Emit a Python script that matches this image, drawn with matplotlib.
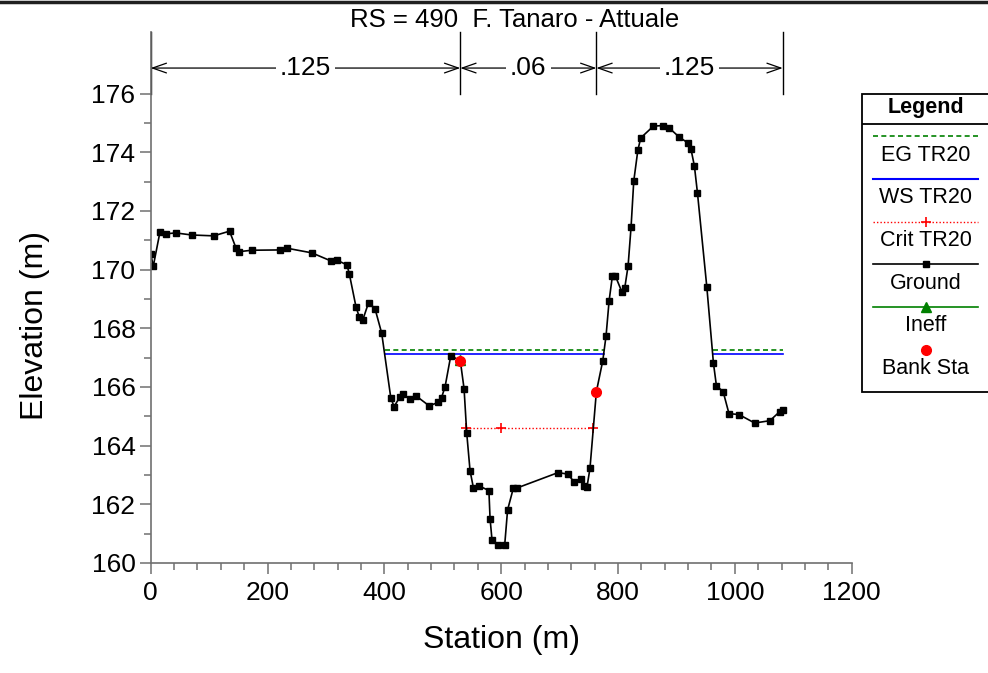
import matplotlib
matplotlib.use("Agg")
import matplotlib.pyplot as plt
from matplotlib.lines import Line2D
from matplotlib.patches import Rectangle

plt.rcParams['font.family'] = ['Liberation Sans', 'DejaVu Sans']

# --- ground profile (station m, elevation m) ---
station = [0, 4.5, 16, 26, 43, 70, 108, 135, 146, 151, 173, 221, 233, 276, 308, 319,
           336, 340, 351.5, 357, 363, 373, 384, 395.5, 411, 416.6, 427, 432.5, 444, 454,
           476.5, 492.5, 498, 504, 513.7, 530, 536.5, 541, 546.7, 552.4, 561.6, 579, 581,
           584.4, 594, 606, 611, 621, 627.7, 697.4, 714, 725, 736, 741.4, 747, 752, 763,
           774, 779.6, 784.8, 790.4, 795.5, 806.5, 811.6, 817.3, 822.4, 827, 834, 839,
           860.6, 876.7, 887, 904.6, 919.5, 925, 930.8, 936, 952, 963.4, 968.5, 980, 990,
           1007, 1034, 1060, 1077, 1082]
elevation = [170.53, 170.12, 171.29, 171.22, 171.25, 171.18, 171.15, 171.31, 170.74, 170.61,
             170.66, 170.67, 170.73, 170.57, 170.30, 170.32, 170.16, 169.86, 168.73, 168.39,
             168.28, 168.87, 168.67, 167.83, 165.64, 165.33, 165.67, 165.75, 165.58, 165.70,
             165.36, 165.47, 165.64, 166.01, 167.06, 166.90, 165.94, 164.44, 163.15, 162.57,
             162.63, 162.47, 161.51, 160.77, 160.60, 160.60, 161.81, 162.56, 162.56, 163.08,
             163.03, 162.76, 162.87, 162.63, 162.60, 163.22, 165.84, 166.90, 167.75, 168.94,
             169.78, 169.78, 169.25, 169.38, 170.13, 171.46, 173.02, 174.07, 174.49, 174.89,
             174.91, 174.84, 174.52, 174.32, 174.10, 173.53, 172.62, 169.42, 166.81, 166.04,
             165.84, 165.09, 165.06, 164.77, 164.85, 165.16, 165.22]

# water surfaces (wetted extents)
ws_elev = 167.11
eg_elev = 167.27
ws_extents = [(400.5, 775.5), (962, 1082)]
crit_elev = 164.61
crit_sta = [540.5, 600, 757.5]

bank_sta = [530, 763]
bank_elev = [166.90, 165.84]
ineff_sta = [530]
ineff_elev = [166.92]

# manning's n
n_edges = [0, 530, 763, 1082]
n_values = [".125", ".06", ".125"]

fig = plt.figure(figsize=(9.88, 6.73), dpi=100)
ax = fig.add_axes([0.1525, 0.1635, 0.7095, 0.789])

for a, b in ws_extents:
    ax.plot([a, b], [eg_elev, eg_elev], color='#008000', lw=1.2, ls=(0, (3, 2)))
    ax.plot([a, b], [ws_elev, ws_elev], color='#0000ff', lw=1.2)
ax.plot(crit_sta, [crit_elev] * len(crit_sta), color='#ff0000', lw=1, ls=(0, (1, 1.5)),
        marker='+', ms=7, mew=1.2)
ax.plot(station, elevation, color='black', lw=1.2, marker='s', ms=4)
ax.plot(ineff_sta, ineff_elev, ls='none', marker='^', color='#008000', ms=7)
ax.plot(bank_sta, bank_elev, ls='none', marker='o', color='#ff0000', ms=7)

ax.set_xlim(0, 1200)
ax.set_ylim(160, 178.1)
ax.set_xticks(range(0, 1201, 200))
ax.set_xticks(range(0, 1201, 40), minor=True)
ax.set_yticks(range(160, 177, 2))
ax.set_yticks(range(161, 176, 2), minor=True)
for s in ['top', 'right']:
    ax.spines[s].set_visible(False)
for s in ['left', 'bottom']:
    ax.spines[s].set_color('#707070')
    ax.spines[s].set_linewidth(1.2)
ax.tick_params(which='major', length=8, width=1.1, color='#707070', labelsize=19, pad=3)
ax.tick_params(which='minor', length=5, width=1.1, color='#707070')
ax.tick_params(axis='x', which='major', pad=5)

# n-value bands above the section
y_arrow = 176.87
for x in n_edges:
    ax.plot([x, x], [176, 178.1], color='black', lw=1, clip_on=False)
for i, n in enumerate(n_values):
    x0, x1 = n_edges[i], n_edges[i + 1]
    ax.annotate('', xy=(x1, y_arrow), xytext=(x0, y_arrow),
                arrowprops=dict(arrowstyle='<->,head_length=1.0,head_width=0.35',
                                color='black', lw=0.9, shrinkA=0, shrinkB=0,
                                mutation_scale=10))
    ax.text((x0 + x1) / 2, y_arrow, n, fontsize=19, ha='center', va='center',
            bbox=dict(facecolor='white', edgecolor='none', pad=3))

fig.text(515 / 988, 1 - 20 / 673, 'RS = 490  F. Tanaro - Attuale', fontsize=18.5,
         ha='center', va='center')
fig.text(35 / 988, 1 - 325 / 673, 'Elevation (m)', fontsize=23, rotation=90,
         ha='center', va='center')
fig.text(501 / 988, 1 - 640 / 673, 'Station (m)', fontsize=23, ha='center', va='center')

# top frame line
fig.add_artist(Line2D([0, 1], [1 - 1.5 / 673] * 2, transform=fig.transFigure,
                      color='#202020', lw=2.5))

# legend panel (pixel layout)
leg = fig.add_axes([862 / 988, 1 - 392 / 673, 127 / 988, 298 / 673])
leg.set_xlim(0, 127)
leg.set_ylim(298, 0)
leg.axis('off')
leg.add_patch(Rectangle((0, 0), 127, 298, fill=False, edgecolor='black', lw=1.3,
                        clip_on=False))
leg.plot([0, 127], [30, 30], color='black', lw=1.3)
leg.text(63.5, 14, 'Legend', fontsize=15.5, fontweight='bold', ha='center', va='center')

x_l = [11, 116]
x_c = [63.5]
rows = [
    ('EG TR20', dict(color='#008000', lw=1.2, ls=(0, (3, 2))), None),
    ('WS TR20', dict(color='#0000ff', lw=1.5), None),
    ('Crit TR20', dict(color='#ff0000', lw=1, ls=(0, (1, 1.5))), dict(marker='+', color='#ff0000', ms=7, mew=1.2)),
    ('Ground', dict(color='black', lw=1.2), dict(marker='s', color='black', ms=4.5)),
    ('Ineff', dict(color='#008000', lw=1.2), dict(marker='^', color='#008000', ms=7)),
    ('Bank Sta', None, dict(marker='o', color='#ff0000', ms=7)),
]
for i, (label, line_kw, mark_kw) in enumerate(rows):
    y_line = 42.3 + i * 42.66
    if line_kw is not None:
        leg.plot(x_l, [y_line, y_line], **line_kw)
    if mark_kw is not None:
        leg.plot(x_c, [y_line], ls='none', **mark_kw)
    leg.text(63.5, y_line + 19, label, fontsize=15.5, ha='center', va='center')

fig.savefig('out.png', dpi=100)
